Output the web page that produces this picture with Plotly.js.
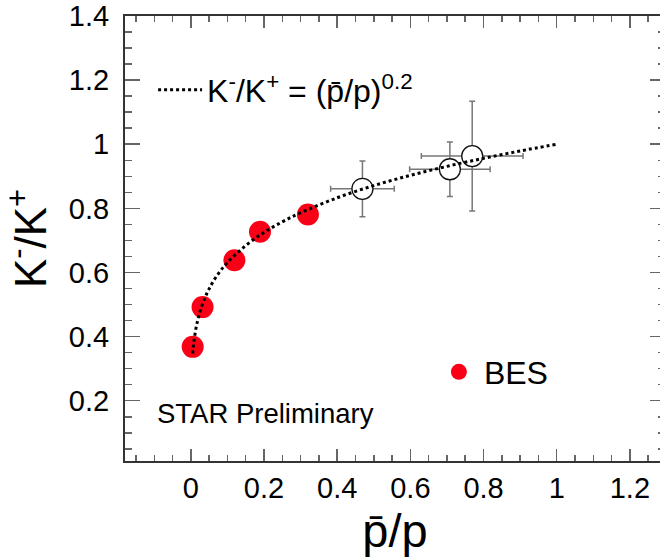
<!DOCTYPE html>
<html>
<head>
<meta charset="utf-8">
<script src="https://cdn.plot.ly/plotly-3.0.1.min.js"></script>
<style>
html, body { margin: 0; padding: 0; overflow: hidden; background: #fff; }
#chart { width: 672px; height: 560px; }
</style>
</head>
<body>
<div id="chart"></div>
<script>
// BES (filled red) points
const besX = [0.005, 0.032, 0.119, 0.189, 0.320];
const besY = [0.368, 0.492, 0.638, 0.727, 0.781];

// Other (open circle) points with errors
const otherX = [0.469, 0.708, 0.769];
const otherY = [0.861, 0.922, 0.963];
const otherXErr = [0.087, 0.110, 0.139];
const otherYErr = [0.087, 0.085, 0.171];

// Dotted curve K-/K+ = (pbar/p)^0.2
const curveX = [0.005, 0.007, 0.01, 0.015, 0.02, 0.03, 0.04, 0.05, 0.07, 0.1, 0.15, 0.2, 0.25, 0.3, 0.4, 0.5, 0.6, 0.7, 0.8, 0.9, 1.0];
const curveY = [0.347, 0.371, 0.398, 0.432, 0.457, 0.496, 0.525, 0.549, 0.588, 0.631, 0.684, 0.725, 0.758, 0.786, 0.833, 0.871, 0.903, 0.931, 0.956, 0.979, 1.0];

const xTickVals = [0, 0.2, 0.4, 0.6, 0.8, 1, 1.2];
const yTickVals = [0.2, 0.4, 0.6, 0.8, 1, 1.2, 1.4];

const FONT = 'Liberation Sans, Arial, Helvetica, sans-serif';

const traces = [
  {
    x: otherX, y: otherY, type: 'scatter', mode: 'markers', showlegend: false,
    marker: { symbol: 'circle', size: 21, color: '#ffffff', line: { color: '#111', width: 1.3 } },
    error_x: { type: 'data', array: otherXErr, visible: true, color: '#777', thickness: 1.5, width: 3 },
    error_y: { type: 'data', array: otherYErr, visible: true, color: '#777', thickness: 1.5, width: 3 },
    hoverinfo: 'skip'
  },
  {
    x: besX, y: besY, type: 'scatter', mode: 'markers', name: 'BES', legend: 'legend2',
    marker: { symbol: 'circle', size: 22, color: 'rgb(250,0,22)', line: { width: 0 } }
  },
  {
    x: curveX, y: curveY, type: 'scatter', mode: 'lines', legend: 'legend',
    name: 'K<sup>-</sup>/K<sup>+</sup> = (p\u0304/p)<sup>0.2</sup>',
    line: { color: '#000', width: 3, dash: 'dot', shape: 'spline' }
  }
];

const axisCommon = {
  showline: true, linecolor: '#333', linewidth: 2, mirror: 'ticks',
  ticks: 'inside', tickwidth: 1.5, tickcolor: '#666',
  showgrid: false, zeroline: false,
  tickfont: { family: FONT, size: 29, color: '#000' }
};

const layout = {
  width: 672, height: 560,
  margin: { l: 125, r: 7, t: 16, b: 99 },
  paper_bgcolor: '#fff', plot_bgcolor: '#fff',
  font: { family: FONT, color: '#000' },
  xaxis: Object.assign({}, axisCommon, {
    range: [-0.18, 1.296], tickvals: xTickVals, ticklen: 12, ticklabelstandoff: 0,
    minor: { ticks: 'inside', ticklen: 6, dtick: 0.05, tick0: 0, tickcolor: '#666', tickwidth: 1.5 },
    title: { text: 'p\u0304/p', font: { family: FONT, size: 47, color: '#000' }, standoff: 7 }
  }),
  yaxis: Object.assign({}, axisCommon, {
    range: [0.012, 1.4], tickvals: yTickVals, ticklen: 15, ticklabelstandoff: 8,
    minor: { ticks: 'inside', ticklen: 7, dtick: 0.05, tick0: 0, tickcolor: '#666', tickwidth: 1.5 },
    title: { text: 'K<sup>-</sup>/K<sup>+</sup>', font: { family: FONT, size: 44, color: '#000' }, standoff: 12 }
  }),
  legend: {
    x: 0.052, y: 0.834, xanchor: 'left', yanchor: 'middle', itemwidth: 44,
    bgcolor: 'rgba(0,0,0,0)', borderwidth: 0,
    font: { family: FONT, size: 32, color: '#000' }
  },
  legend2: {
    x: 0.572, y: 0.2, xanchor: 'left', yanchor: 'middle', itemwidth: 40,
    bgcolor: 'rgba(0,0,0,0)', borderwidth: 0,
    font: { family: FONT, size: 32, color: '#000' }
  },
  annotations: [
    { text: 'STAR Preliminary', xref: 'paper', yref: 'paper', x: 0.056, y: 0.107,
      xanchor: 'left', yanchor: 'middle', showarrow: false,
      font: { family: FONT, size: 27.5, color: '#000' } }
  ]
};

Plotly.newPlot('chart', traces, layout, { displayModeBar: false, staticPlot: true });
</script>
</body>
</html>
